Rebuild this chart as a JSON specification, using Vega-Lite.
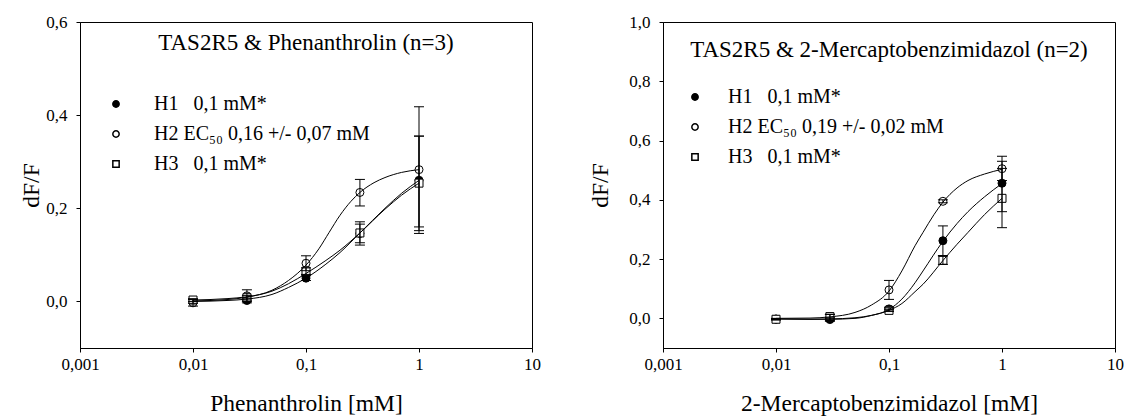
{
  "$schema": "https://vega.github.io/schema/vega-lite/v6.json",
  "padding": {"left": 19, "top": 12, "right": 5, "bottom": 5},
  "spacing": 47,
  "background": "white",
  "datasets": {
    "pts": [
      {"panel": "A", "series": "H1", "x": 0.01, "y": 0.0, "lo": -0.004, "hi": 0.004},
      {"panel": "A", "series": "H1", "x": 0.03, "y": 0.002, "lo": -0.003, "hi": 0.007},
      {"panel": "A", "series": "H1", "x": 0.1, "y": 0.05, "lo": 0.045, "hi": 0.055},
      {"panel": "A", "series": "H1", "x": 0.3, "y": 0.146, "lo": 0.126, "hi": 0.166},
      {"panel": "A", "series": "H1", "x": 1, "y": 0.26, "lo": 0.16, "hi": 0.355},
      {"panel": "A", "series": "H2", "x": 0.01, "y": -0.003, "lo": -0.01, "hi": 0.004},
      {"panel": "A", "series": "H2", "x": 0.03, "y": 0.012, "lo": 0.0, "hi": 0.025},
      {"panel": "A", "series": "H2", "x": 0.1, "y": 0.082, "lo": 0.066, "hi": 0.098},
      {"panel": "A", "series": "H2", "x": 0.3, "y": 0.234, "lo": 0.205, "hi": 0.262},
      {"panel": "A", "series": "H2", "x": 1, "y": 0.283, "lo": 0.146, "hi": 0.418},
      {"panel": "A", "series": "H3", "x": 0.01, "y": 0.003, "lo": 0.0, "hi": 0.006},
      {"panel": "A", "series": "H3", "x": 0.03, "y": 0.008, "lo": 0.003, "hi": 0.013},
      {"panel": "A", "series": "H3", "x": 0.1, "y": 0.065, "lo": 0.058, "hi": 0.072},
      {"panel": "A", "series": "H3", "x": 0.3, "y": 0.147, "lo": 0.121, "hi": 0.171},
      {"panel": "A", "series": "H3", "x": 1, "y": 0.254, "lo": 0.152, "hi": 0.355},
      {"panel": "B", "series": "H1", "x": 0.01, "y": -0.003, "lo": -0.005, "hi": -0.001},
      {"panel": "B", "series": "H1", "x": 0.03, "y": -0.004, "lo": -0.01, "hi": 0.002},
      {"panel": "B", "series": "H1", "x": 0.1, "y": 0.032, "lo": 0.028, "hi": 0.036},
      {"panel": "B", "series": "H1", "x": 0.3, "y": 0.262, "lo": 0.212, "hi": 0.312},
      {"panel": "B", "series": "H1", "x": 1, "y": 0.456, "lo": 0.36, "hi": 0.53},
      {"panel": "B", "series": "H2", "x": 0.01, "y": -0.002, "lo": -0.004, "hi": 0.0},
      {"panel": "B", "series": "H2", "x": 0.03, "y": 0.003, "lo": -0.007, "hi": 0.013},
      {"panel": "B", "series": "H2", "x": 0.1, "y": 0.096, "lo": 0.064, "hi": 0.128},
      {"panel": "B", "series": "H2", "x": 0.3, "y": 0.395, "lo": 0.39, "hi": 0.4},
      {"panel": "B", "series": "H2", "x": 1, "y": 0.505, "lo": 0.465, "hi": 0.547},
      {"panel": "B", "series": "H3", "x": 0.01, "y": -0.003, "lo": -0.005, "hi": -0.001},
      {"panel": "B", "series": "H3", "x": 0.03, "y": 0.006, "lo": -0.002, "hi": 0.014},
      {"panel": "B", "series": "H3", "x": 0.1, "y": 0.027, "lo": 0.023, "hi": 0.031},
      {"panel": "B", "series": "H3", "x": 0.3, "y": 0.196, "lo": 0.182, "hi": 0.21},
      {"panel": "B", "series": "H3", "x": 1, "y": 0.405, "lo": 0.306, "hi": 0.506}
    ],
    "fit": [
      {"panel": "A", "series": "H1", "x": 0.01, "y": 0.0},
      {"panel": "A", "series": "H1", "x": 0.02, "y": 0.002},
      {"panel": "A", "series": "H1", "x": 0.03, "y": 0.005},
      {"panel": "A", "series": "H1", "x": 0.05, "y": 0.015},
      {"panel": "A", "series": "H1", "x": 0.07, "y": 0.03},
      {"panel": "A", "series": "H1", "x": 0.1, "y": 0.05},
      {"panel": "A", "series": "H1", "x": 0.15, "y": 0.08},
      {"panel": "A", "series": "H1", "x": 0.2, "y": 0.105},
      {"panel": "A", "series": "H1", "x": 0.3, "y": 0.147},
      {"panel": "A", "series": "H1", "x": 0.5, "y": 0.2},
      {"panel": "A", "series": "H1", "x": 0.7, "y": 0.232},
      {"panel": "A", "series": "H1", "x": 1, "y": 0.26},
      {"panel": "A", "series": "H2", "x": 0.01, "y": 0.001},
      {"panel": "A", "series": "H2", "x": 0.02, "y": 0.004},
      {"panel": "A", "series": "H2", "x": 0.03, "y": 0.009},
      {"panel": "A", "series": "H2", "x": 0.05, "y": 0.024},
      {"panel": "A", "series": "H2", "x": 0.07, "y": 0.045},
      {"panel": "A", "series": "H2", "x": 0.1, "y": 0.078},
      {"panel": "A", "series": "H2", "x": 0.13, "y": 0.113},
      {"panel": "A", "series": "H2", "x": 0.16, "y": 0.148},
      {"panel": "A", "series": "H2", "x": 0.2, "y": 0.185},
      {"panel": "A", "series": "H2", "x": 0.25, "y": 0.215},
      {"panel": "A", "series": "H2", "x": 0.3, "y": 0.234},
      {"panel": "A", "series": "H2", "x": 0.4, "y": 0.255},
      {"panel": "A", "series": "H2", "x": 0.5, "y": 0.266},
      {"panel": "A", "series": "H2", "x": 0.7, "y": 0.277},
      {"panel": "A", "series": "H2", "x": 1, "y": 0.283},
      {"panel": "A", "series": "H3", "x": 0.01, "y": 0.003},
      {"panel": "A", "series": "H3", "x": 0.02, "y": 0.006},
      {"panel": "A", "series": "H3", "x": 0.03, "y": 0.01},
      {"panel": "A", "series": "H3", "x": 0.05, "y": 0.022},
      {"panel": "A", "series": "H3", "x": 0.07, "y": 0.038},
      {"panel": "A", "series": "H3", "x": 0.1, "y": 0.06},
      {"panel": "A", "series": "H3", "x": 0.15, "y": 0.088},
      {"panel": "A", "series": "H3", "x": 0.2, "y": 0.11},
      {"panel": "A", "series": "H3", "x": 0.3, "y": 0.147},
      {"panel": "A", "series": "H3", "x": 0.5, "y": 0.198},
      {"panel": "A", "series": "H3", "x": 0.7, "y": 0.228},
      {"panel": "A", "series": "H3", "x": 1, "y": 0.254},
      {"panel": "B", "series": "H1", "x": 0.01, "y": -0.002},
      {"panel": "B", "series": "H1", "x": 0.02, "y": -0.003},
      {"panel": "B", "series": "H1", "x": 0.03, "y": -0.003},
      {"panel": "B", "series": "H1", "x": 0.05, "y": 0.0},
      {"panel": "B", "series": "H1", "x": 0.07, "y": 0.01},
      {"panel": "B", "series": "H1", "x": 0.1, "y": 0.03},
      {"panel": "B", "series": "H1", "x": 0.13, "y": 0.065},
      {"panel": "B", "series": "H1", "x": 0.17, "y": 0.12},
      {"panel": "B", "series": "H1", "x": 0.2, "y": 0.16},
      {"panel": "B", "series": "H1", "x": 0.3, "y": 0.26},
      {"panel": "B", "series": "H1", "x": 0.4, "y": 0.32},
      {"panel": "B", "series": "H1", "x": 0.5, "y": 0.36},
      {"panel": "B", "series": "H1", "x": 0.7, "y": 0.41},
      {"panel": "B", "series": "H1", "x": 1, "y": 0.455},
      {"panel": "B", "series": "H2", "x": 0.01, "y": 0.0},
      {"panel": "B", "series": "H2", "x": 0.02, "y": 0.001},
      {"panel": "B", "series": "H2", "x": 0.03, "y": 0.005},
      {"panel": "B", "series": "H2", "x": 0.05, "y": 0.02},
      {"panel": "B", "series": "H2", "x": 0.07, "y": 0.045},
      {"panel": "B", "series": "H2", "x": 0.1, "y": 0.092},
      {"panel": "B", "series": "H2", "x": 0.13, "y": 0.16},
      {"panel": "B", "series": "H2", "x": 0.17, "y": 0.245},
      {"panel": "B", "series": "H2", "x": 0.2, "y": 0.29},
      {"panel": "B", "series": "H2", "x": 0.25, "y": 0.35},
      {"panel": "B", "series": "H2", "x": 0.3, "y": 0.392},
      {"panel": "B", "series": "H2", "x": 0.4, "y": 0.44},
      {"panel": "B", "series": "H2", "x": 0.5, "y": 0.465},
      {"panel": "B", "series": "H2", "x": 0.7, "y": 0.487},
      {"panel": "B", "series": "H2", "x": 1, "y": 0.503},
      {"panel": "B", "series": "H3", "x": 0.01, "y": -0.002},
      {"panel": "B", "series": "H3", "x": 0.02, "y": -0.003},
      {"panel": "B", "series": "H3", "x": 0.03, "y": -0.002},
      {"panel": "B", "series": "H3", "x": 0.05, "y": 0.002},
      {"panel": "B", "series": "H3", "x": 0.07, "y": 0.01},
      {"panel": "B", "series": "H3", "x": 0.1, "y": 0.027},
      {"panel": "B", "series": "H3", "x": 0.13, "y": 0.05},
      {"panel": "B", "series": "H3", "x": 0.17, "y": 0.09},
      {"panel": "B", "series": "H3", "x": 0.2, "y": 0.115},
      {"panel": "B", "series": "H3", "x": 0.3, "y": 0.195},
      {"panel": "B", "series": "H3", "x": 0.4, "y": 0.25},
      {"panel": "B", "series": "H3", "x": 0.5, "y": 0.29},
      {"panel": "B", "series": "H3", "x": 0.7, "y": 0.35},
      {"panel": "B", "series": "H3", "x": 1, "y": 0.405}
    ]
  },
  "hconcat": [
    {
      "width": 452,
      "height": 326,
      "title": {"text": "TAS2R5 & Phenanthrolin (n=3)", "anchor": "middle", "frame": "group", "offset": -53, "baseline": "middle"},
      "layer": [
        {
          "data": {"name": "pts"},
          "transform": [{"filter": "datum.panel == 'A'"}],
          "mark": {"type": "point", "filled": true, "size": 64, "stroke": "black", "strokeWidth": 1, "opacity": 1},
          "encoding": {
            "x": {"field": "x", "type": "quantitative", "scale": {"type": "log", "domain": [0.001, 10], "nice": false},
                  "axis": {"values": [0.001, 0.01, 0.1, 1, 10], "labelExpr": "replace(toString(datum.value), '.', ',')", "labelFlush": false, "labelPadding": 4, "titlePadding": 19},
                  "title": "Phenanthrolin [mM]"},
            "y": {"field": "y", "type": "quantitative", "scale": {"domain": [-0.1, 0.6], "nice": false, "zero": false},
                  "axis": {"values": [0, 0.2, 0.4, 0.6], "labelExpr": "replace(format(datum.value, '.1f'), '.', ',')", "labelPadding": 9, "titlePadding": 2},
                  "title": "dF/F"},
            "shape": {"field": "series", "type": "nominal", "scale": {"domain": ["H1", "H2", "H3"], "range": ["circle", "circle", "square"]},
                      "legend": {"orient": "none", "legendX": 26, "legendY": 72, "title": null, "symbolSize": 40, "labelOffset": 28, "rowPadding": 10, "labelLimit": 0,
                                 "encode": {"symbols": {"update": {"stroke": {"value": "black"}, "strokeWidth": {"value": 1}, "opacity": {"value": 1}}}},
                                 "labelExpr": "datum.label == 'H1' ? 'H1\u00a0\u00a0\u00a00,1 mM*' : datum.label == 'H2' ? 'H2 EC\u2085\u2080 0,16 +/- 0,07 mM' : 'H3\u00a0\u00a0\u00a00,1 mM*'"}},
            "fill": {"field": "series", "type": "nominal", "scale": {"domain": ["H1", "H2", "H3"], "range": ["black", "white", "white"]},
                     "legend": {"orient": "none", "legendX": 26, "legendY": 72, "title": null, "symbolSize": 40, "labelOffset": 28, "rowPadding": 10, "labelLimit": 0,
                                "encode": {"symbols": {"update": {"stroke": {"value": "black"}, "strokeWidth": {"value": 1}, "opacity": {"value": 1}}}},
                                "labelExpr": "datum.label == 'H1' ? 'H1\u00a0\u00a0\u00a00,1 mM*' : datum.label == 'H2' ? 'H2 EC\u2085\u2080 0,16 +/- 0,07 mM' : 'H3\u00a0\u00a0\u00a00,1 mM*'"}}
          }
        },
        {
          "data": {"name": "pts"},
          "transform": [{"filter": "datum.panel == 'A'"}],
          "mark": {"type": "rule", "color": "black", "strokeWidth": 1},
          "encoding": {"x": {"field": "x", "type": "quantitative"}, "y": {"field": "lo", "type": "quantitative"}, "y2": {"field": "hi"}}
        },
        {
          "data": {"name": "pts"},
          "transform": [{"filter": "datum.panel == 'A'"}],
          "mark": {"type": "tick", "orient": "horizontal", "size": 10, "thickness": 1, "color": "black", "opacity": 1},
          "encoding": {"x": {"field": "x", "type": "quantitative"}, "y": {"field": "lo", "type": "quantitative"}}
        },
        {
          "data": {"name": "pts"},
          "transform": [{"filter": "datum.panel == 'A'"}],
          "mark": {"type": "tick", "orient": "horizontal", "size": 10, "thickness": 1, "color": "black", "opacity": 1},
          "encoding": {"x": {"field": "x", "type": "quantitative"}, "y": {"field": "hi", "type": "quantitative"}}
        },
        {
          "data": {"name": "fit"},
          "transform": [{"filter": "datum.panel == 'A'"}],
          "mark": {"type": "line", "color": "black", "strokeWidth": 1, "interpolate": "monotone"},
          "encoding": {"x": {"field": "x", "type": "quantitative"}, "y": {"field": "y", "type": "quantitative"}, "detail": {"field": "series"}}
        }
      ]
    },
    {
      "width": 452,
      "height": 326,
      "title": {"text": "TAS2R5 & 2-Mercaptobenzimidazol (n=2)", "anchor": "middle", "frame": "group", "offset": -60, "baseline": "middle"},
      "layer": [
        {
          "data": {"name": "pts"},
          "transform": [{"filter": "datum.panel == 'B'"}],
          "mark": {"type": "point", "filled": true, "size": 64, "stroke": "black", "strokeWidth": 1, "opacity": 1},
          "encoding": {
            "x": {"field": "x", "type": "quantitative", "scale": {"type": "log", "domain": [0.001, 10], "nice": false},
                  "axis": {"values": [0.001, 0.01, 0.1, 1, 10], "labelExpr": "replace(toString(datum.value), '.', ',')", "labelFlush": false, "labelPadding": 4, "titlePadding": 19},
                  "title": "2-Mercaptobenzimidazol [mM]"},
            "y": {"field": "y", "type": "quantitative", "scale": {"domain": [-0.1, 1.0], "nice": false, "zero": false},
                  "axis": {"values": [0, 0.2, 0.4, 0.6, 0.8, 1.0], "labelExpr": "replace(format(datum.value, '.1f'), '.', ',')", "labelPadding": 9, "titlePadding": 16},
                  "title": "dF/F"},
            "shape": {"field": "series", "type": "nominal", "scale": {"domain": ["H1", "H2", "H3"], "range": ["circle", "circle", "square"]},
                      "legend": {"orient": "none", "legendX": 22, "legendY": 65, "title": null, "symbolSize": 40, "labelOffset": 23, "rowPadding": 10, "labelLimit": 0,
                                 "encode": {"symbols": {"update": {"stroke": {"value": "black"}, "strokeWidth": {"value": 1}, "opacity": {"value": 1}}}},
                                 "labelExpr": "datum.label == 'H1' ? 'H1\u00a0\u00a0\u00a00,1 mM*' : datum.label == 'H2' ? 'H2 EC\u2085\u2080 0,19 +/- 0,02 mM' : 'H3\u00a0\u00a0\u00a00,1 mM*'"}},
            "fill": {"field": "series", "type": "nominal", "scale": {"domain": ["H1", "H2", "H3"], "range": ["black", "white", "white"]},
                     "legend": {"orient": "none", "legendX": 22, "legendY": 65, "title": null, "symbolSize": 40, "labelOffset": 23, "rowPadding": 10, "labelLimit": 0,
                                "encode": {"symbols": {"update": {"stroke": {"value": "black"}, "strokeWidth": {"value": 1}, "opacity": {"value": 1}}}},
                                "labelExpr": "datum.label == 'H1' ? 'H1\u00a0\u00a0\u00a00,1 mM*' : datum.label == 'H2' ? 'H2 EC\u2085\u2080 0,19 +/- 0,02 mM' : 'H3\u00a0\u00a0\u00a00,1 mM*'"}}
          }
        },
        {
          "data": {"name": "pts"},
          "transform": [{"filter": "datum.panel == 'B'"}],
          "mark": {"type": "rule", "color": "black", "strokeWidth": 1},
          "encoding": {"x": {"field": "x", "type": "quantitative"}, "y": {"field": "lo", "type": "quantitative"}, "y2": {"field": "hi"}}
        },
        {
          "data": {"name": "pts"},
          "transform": [{"filter": "datum.panel == 'B'"}],
          "mark": {"type": "tick", "orient": "horizontal", "size": 10, "thickness": 1, "color": "black", "opacity": 1},
          "encoding": {"x": {"field": "x", "type": "quantitative"}, "y": {"field": "lo", "type": "quantitative"}}
        },
        {
          "data": {"name": "pts"},
          "transform": [{"filter": "datum.panel == 'B'"}],
          "mark": {"type": "tick", "orient": "horizontal", "size": 10, "thickness": 1, "color": "black", "opacity": 1},
          "encoding": {"x": {"field": "x", "type": "quantitative"}, "y": {"field": "hi", "type": "quantitative"}}
        },
        {
          "data": {"name": "fit"},
          "transform": [{"filter": "datum.panel == 'B'"}],
          "mark": {"type": "line", "color": "black", "strokeWidth": 1, "interpolate": "monotone"},
          "encoding": {"x": {"field": "x", "type": "quantitative"}, "y": {"field": "y", "type": "quantitative"}, "detail": {"field": "series"}}
        }
      ]
    }
  ],
  "resolve": {
    "scale": {"x": "independent", "y": "independent", "shape": "independent", "fill": "independent"},
    "legend": {"shape": "independent", "fill": "independent"}
  },
  "config": {
    "font": "Liberation Serif",
    "view": {"stroke": "black", "strokeWidth": 1},
    "axis": {"grid": false, "domainColor": "black", "tickColor": "black", "labelColor": "black", "titleColor": "black",
             "labelFont": "Liberation Serif", "titleFont": "Liberation Serif", "labelFontSize": 17, "titleFontSize": 23.5,
             "titleFontWeight": "normal", "tickSize": 4},
    "legend": {"labelFont": "Liberation Serif", "labelFontSize": 20, "labelColor": "black", "padding": 0},
    "title": {"font": "Liberation Serif", "fontSize": 23, "fontWeight": "normal", "color": "black"}
  }
}
